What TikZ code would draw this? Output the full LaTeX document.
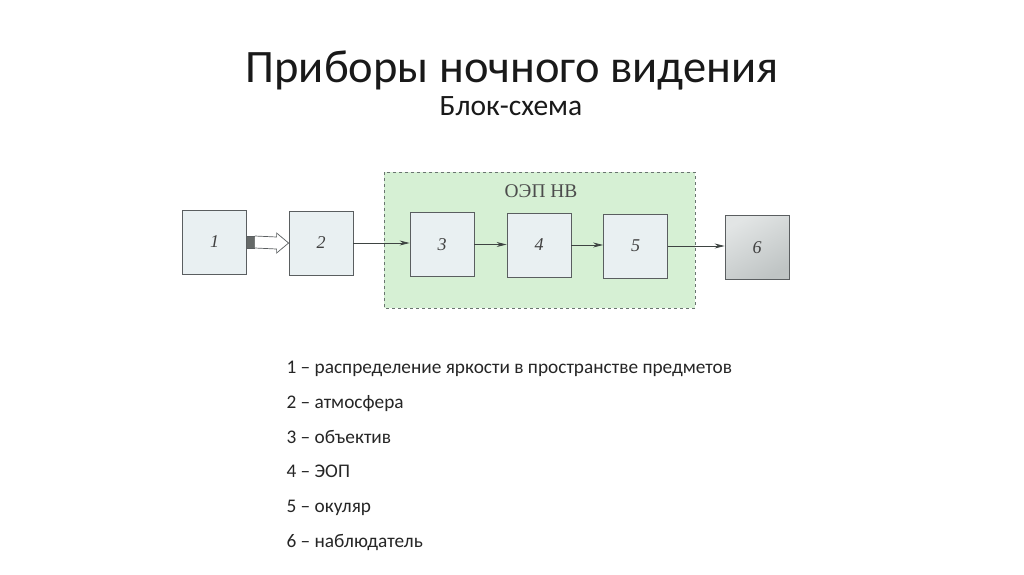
\documentclass[tikz,border=0pt]{standalone}
\usepackage{fontspec}
\setmainfont{Carlito}
\newfontfamily\bookserif{Liberation Serif}
\usetikzlibrary{positioning,arrows.meta,calc}
\definecolor{frameGray}{HTML}{5A5E60}
\definecolor{boxFill}{HTML}{E9F0F2}
\definecolor{zoneGreen}{HTML}{D6F0D4}
\definecolor{zoneLine}{HTML}{6A7470}
\definecolor{eyeDark}{HTML}{BFC4C4}
\definecolor{eyeLight}{HTML}{E2E5E5}
\definecolor{wireGray}{HTML}{3E4442}
\tikzset{
    block/.style={draw=frameGray,fill=boxFill,line width=0.8pt,
        minimum width=64pt,minimum height=64pt,inner sep=0pt,
        font=\bookserif\itshape\fontsize{18}{18}\selectfont,text=black!75},
    eyeblock/.style={block,fill=none,top color=eyeLight,bottom color=eyeDark,
        shading angle=30},
    zone/.style={draw=zoneLine,fill=zoneGreen,dashed,line width=0.8pt},
    wire/.style={-{Stealth[length=10pt,width=5pt]},draw=wireGray,line width=0.8pt},
    legend/.style={anchor=base west,font=\fontsize{19.3}{19.3}\selectfont,text=black!85}
}
\begin{document}
\begin{tikzpicture}[x=1pt,y=-1pt]
    \useasboundingbox[fill=white] (0,0) rectangle (1024,574);

    \node[font=\fontsize{46.5}{46.5}\selectfont,text=black!90,anchor=base] (title) at (512,82)
        {Приборы ночного видения};
    \node[font=\fontsize{29.5}{29.5}\selectfont,text=black!90,anchor=base] (subtitle) at (511,115)
        {Блок-схема};

    % зона ОЭП НВ
    \draw[zone] (384,172) rectangle (695,308);
    \node[font=\bookserif\fontsize{19.4}{19.4}\selectfont,text=black!70] (zonelabel) at (541,191)
        {ОЭП НВ};

    \node[block] (b1) at (214.5,242) {1};
    \node[block] (b2) at (321,243) {2};
    \node[block] (b3) at (442,244.5) {3};
    \node[block] (b4) at (539,245) {4};
    \node[block] (b5) at (635.5,246) {5};
    \node[eyeblock] (b6) at (757,247.5) {6};

    % полая стрелка 1 -> 2
    \fill[wireGray!80] ($(b1.east)+(0,-6)$) rectangle ($(b1.east)+(8,6)$);
    \draw[frameGray,line width=0.7pt,fill=white]
        ($(b1.east)+(8,-6)$) -- ($(b2.west)+(-12,-6)$) -- ($(b2.west)+(-12,-10)$)
        -- (b2.west) -- ($(b2.west)+(-12,10)$) -- ($(b2.west)+(-12,6)$)
        -- ($(b1.east)+(8,6)$);
    \draw[frameGray,line width=0.7pt] ($(b1.east)+(0,-6)$) -- ($(b1.east)+(8,-6)$)
        ($(b1.east)+(0,6)$) -- ($(b1.east)+(8,6)$);

    \draw[wire] (b2.east) -- (b2.east -| b3.west);
    \draw[wire] (b3.east) -- (b3.east -| b4.west);
    \draw[wire] (b4.east) -- (b4.east -| b5.west);
    \draw[wire] (b5.east) -- (b5.east -| b6.west);

    % пояснения
    \node[legend] (l1) at (283,373) {1 – распределение яркости в пространстве предметов};
    \node[legend] (l2) at (283,408) {2 – атмосфера};
    \node[legend] (l3) at (283,443) {3 – объектив};
    \node[legend] (l4) at (283,477) {4 – ЭОП};
    \node[legend] (l5) at (283,512) {5 – окуляр};
    \node[legend] (l6) at (283,547) {6 – наблюдатель};
\end{tikzpicture}
\end{document}
